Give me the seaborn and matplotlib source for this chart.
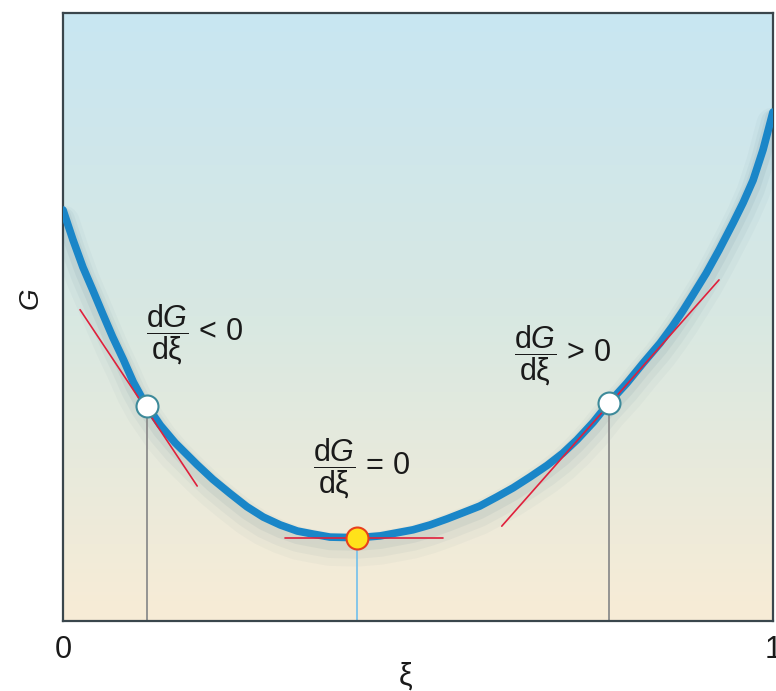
import numpy as np
import pandas as pd
import seaborn as sns
import matplotlib.pyplot as plt
from matplotlib.colors import LinearSegmentedColormap

# curve G(xi) (G scaled so the frame is 0..1)
xi = [0.0, 0.014, 0.028, 0.042, 0.056, 0.070, 0.085, 0.099, 0.113, 0.137,
      0.158, 0.189, 0.211, 0.235, 0.259, 0.282, 0.306, 0.330, 0.352,
      0.376, 0.416, 0.447, 0.470, 0.493, 0.517, 0.541, 0.563, 0.587, 0.611,
      0.634, 0.658, 0.682, 0.704, 0.724, 0.747, 0.769, 0.794, 0.817, 0.841,
      0.858, 0.873, 0.887, 0.906, 0.924, 0.944, 0.958, 0.972, 0.986, 1.0]
G = [0.676, 0.627, 0.582, 0.544, 0.505, 0.467, 0.430, 0.393, 0.363, 0.322,
     0.293, 0.257, 0.233, 0.210, 0.188, 0.171, 0.158, 0.148, 0.143,
     0.138, 0.137, 0.140, 0.145, 0.150, 0.158, 0.168, 0.178, 0.189, 0.204,
     0.219, 0.237, 0.256, 0.276, 0.298, 0.327, 0.359, 0.391, 0.424, 0.457,
     0.484, 0.510, 0.536, 0.572, 0.610, 0.655, 0.688, 0.725, 0.775, 0.837]

# marked points: left (dG/dxi < 0), minimum, right (dG/dxi > 0)
pt_xi = [0.118, 0.414, 0.769]
pt_G = [0.354, 0.137, 0.359]

# tangent segments (start / end)
tan_x = [[0.024, 0.189], [0.313, 0.535], [0.618, 0.924]]
tan_y = [[0.512, 0.222], [0.137, 0.137], [0.156, 0.561]]

frac = r'$\dfrac{\mathrm{d}G}{\mathrm{d\xi}}$'
labels = [frac + ' < 0', frac + ' = 0', frac + ' > 0']

df = pd.DataFrame({'xi': xi, 'G': G})

sns.set_theme(style='white')
plt.rcParams['font.family'] = ['Liberation Sans', 'DejaVu Sans']
plt.rcParams['mathtext.fontset'] = 'custom'
plt.rcParams['mathtext.rm'] = 'Liberation Sans'
plt.rcParams['mathtext.it'] = 'Liberation Sans:italic'

fig = plt.figure(figsize=(7.76, 6.91), dpi=100)
ax = fig.add_axes([0.0812, 0.1013, 0.9149, 0.8799])

# background gradient, beige at the bottom to light blue at the top
cmap = LinearSegmentedColormap.from_list('bg', ['#f8ecd6', '#d8e8e2', '#c8e6f2'])
grad = np.linspace(0, 1, 256).reshape(-1, 1)
ax.imshow(grad, extent=[0, 1, 0, 1], origin='lower', aspect='auto', cmap=cmap, zorder=0)

# soft shadow under the curve
for w, a, off in [(24, 0.035, 0.02), (17, 0.05, 0.015), (11, 0.07, 0.009)]:
    ax.plot(df['xi'], df['G'] - off, color='#3d6478', lw=w, alpha=a,
            solid_capstyle='round', solid_joinstyle='round', zorder=1)

# vertical drop lines
ax.plot([pt_xi[0], pt_xi[0]], [0, pt_G[0]], color='#8c8c8c', lw=1.3, zorder=2)
ax.plot([pt_xi[2], pt_xi[2]], [0, pt_G[2]], color='#8c8c8c', lw=1.3, zorder=2)
ax.plot([pt_xi[1], pt_xi[1]], [0, pt_G[1]], color='#7cc3ea', lw=1.3, zorder=2)

sns.lineplot(data=df, x='xi', y='G', color='#1a86c8', lw=5.5, sort=False,
             solid_joinstyle='round', ax=ax, zorder=3)

for tx, ty in zip(tan_x, tan_y):
    ax.plot(tx, ty, color='#e0203c', lw=1.2, zorder=4)

ax.scatter([pt_xi[0], pt_xi[2]], [pt_G[0], pt_G[2]], s=250, c='white',
           edgecolors='#3d8a9a', linewidths=1.5, zorder=5)
ax.scatter([pt_xi[1]], [pt_G[1]], s=250, c='#ffe21a',
           edgecolors='#e8401c', linewidths=1.5, zorder=5)

ax.text(0.185, 0.47, labels[0], fontsize=22, ha='center', va='center', color='#1a1a1a', zorder=6)
ax.text(0.420, 0.25, labels[1], fontsize=22, ha='center', va='center', color='#1a1a1a', zorder=6)
ax.text(0.704, 0.436, labels[2], fontsize=22, ha='center', va='center', color='#1a1a1a', zorder=6)

ax.set_xlim(0, 1)
ax.set_ylim(0, 1)
ax.set_xticks([0, 1])
ax.set_xticklabels(['0', '1'], fontsize=22, color='#1a1a1a')
ax.set_yticks([])
ax.tick_params(axis='x', length=0, pad=10)
ax.set_xlabel('ξ', fontsize=22, color='#1a1a1a')
ax.xaxis.set_label_coords(0.482, -0.066)
ax.set_ylabel('G', fontsize=20, color='#1a1a1a', style='italic')
ax.yaxis.set_label_coords(-0.028, 0.531)

for s in ax.spines.values():
    s.set_color('#3a464c')
    s.set_linewidth(1.6)
    s.set_visible(True)

fig.savefig('out.png', dpi=100)
